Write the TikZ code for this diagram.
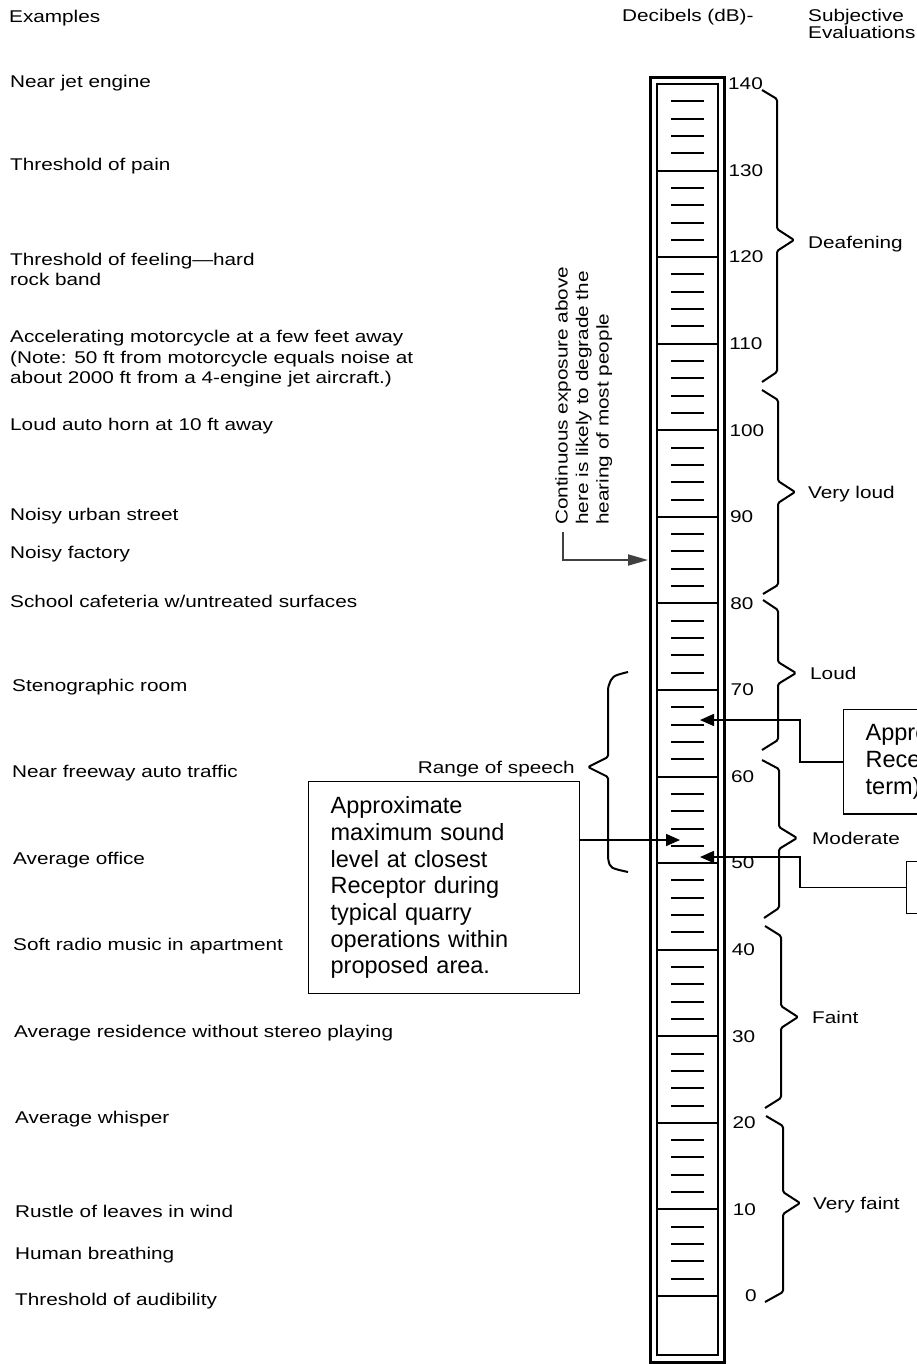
\documentclass[tikz,border=0pt]{standalone}
\usepackage{fontspec}
\setmainfont{Liberation Sans}
\newfontfamily\scanfont[FakeStretch=1.22]{Liberation Sans}
\usetikzlibrary{arrows.meta}
\begin{document}
\begin{tikzpicture}[x=1pt,y=-1pt,
  scan/.style={font=\scanfont\fontsize{17}{20.5}\selectfont, inner sep=0pt},
  lab/.style={scan, anchor=base west},
  mlab/.style={scan, anchor=north west, align=left},
  num/.style={scan, anchor=west},
  callout/.style={draw, line width=1.3pt, font=\fontsize{23.5}{26.7}\selectfont, align=left, text width=227pt, inner xsep=22pt, inner ysep=15pt, anchor=north west},
  conn/.style={line width=1.6pt, -{Triangle[length=14pt,width=12pt]}},
  brc/.style={line width=2pt, line join=round, rounded corners=1.5pt},
  wallout/.style={line width=3pt},
  wallin/.style={line width=2.2pt},
  divider/.style={line width=2pt},
  tick/.style={line width=2pt}
]
\useasboundingbox (0,0) rectangle (917,1364);
\fill[white] (0,0) rectangle (917,1364);
\clip (0,0) rectangle (917,1364);

% headers
\node[lab] (hex) at (9,23) {Examples};
\node[lab] (hdb) at (622,22) {Decibels (dB)-};
\node[scan, anchor=north west, align=left, font=\scanfont\fontsize{17}{17}\selectfont] (hsub) at (808,9) {Subjective\\Evaluations};

% examples
\node[lab] (e140) at (10,88) {Near jet engine};
\node[lab] (e130) at (10,171) {Threshold of pain};
\node[mlab] (e120) at (10,252.6) {Threshold of feeling—hard\\rock band};
\node[mlab] (e110) at (10,330) {Accelerating motorcycle at a few feet away\\(Note: 50 ft from motorcycle equals noise at\\about 2000 ft from a 4-engine jet aircraft.)};
\node[lab] (e100) at (10,430) {Loud auto horn at 10 ft away};
\node[lab] (e90) at (10,520) {Noisy urban street};
\node[lab] (e85) at (10,558) {Noisy factory};
\node[lab] (e80) at (10,607) {School cafeteria w/untreated surfaces};
\node[lab] (e70) at (12,691) {Stenographic room};
\node[lab] (e60) at (12,777) {Near freeway auto traffic};
\node[lab] (e50) at (13,864) {Average office};
\node[lab] (e40) at (13,950) {Soft radio music in apartment};
\node[lab] (e30) at (14,1037) {Average residence without stereo playing};
\node[lab] (e20) at (15,1123) {Average whisper};
\node[lab] (e10) at (15,1217) {Rustle of leaves in wind};
\node[lab] (e5) at (15,1259) {Human breathing};
\node[lab] (e0) at (15,1305) {Threshold of audibility};

% thermometer
\draw[wallout] (650,78) rectangle (724,1362);
\draw[wallin] (657,84) rectangle (718,1355);
\foreach \d in {0,10,...,130}{
  \draw[divider] (657,{84+(140-\d)*8.657}) -- (718,{84+(140-\d)*8.657});
}
\foreach \c in {0,...,13}{
  \foreach \k in {2,4,6,8}{
    \draw[tick] (671,{84+(10*\c+\k)*8.657}) -- (704,{84+(10*\c+\k)*8.657});
  }
}
\foreach \d in {10,20,...,140}{
  \node[num] (n\d) at ({728+(140-\d)*0.036},{84+(140-\d)*8.657}) {\d};
}
\node[num] (n0) at (745,1296) {0};

% subjective braces
\draw[brc] (762,90) -- (777,99) -- (777,229) -- (794,240) -- (777,251) -- (777,372) -- (762,382);
\draw[brc] (762,390) -- (778,400) -- (778,481) -- (795,492) -- (778,503) -- (778,585) -- (763,594);
\draw[brc] (763,600) -- (778,610) -- (778,662) -- (796,673) -- (778,684) -- (778,740) -- (762,750);
\draw[brc] (762,760) -- (779,769) -- (779,827) -- (797,838) -- (779,849) -- (779,908) -- (764,918);
\draw[brc] (765,926) -- (781,936) -- (781,1006) -- (798,1017) -- (781,1028) -- (781,1098) -- (765,1108);
\draw[brc] (766,1116) -- (783,1126) -- (783,1192) -- (800,1203) -- (783,1214) -- (783,1292) -- (765,1302);
\node[lab] (sdeaf) at (808,248) {Deafening};
\node[lab] (svl) at (808,498) {Very loud};
\node[lab] (sl) at (810,679) {Loud};
\node[lab] (sm) at (812,844) {Moderate};
\node[lab] (sf) at (812,1023) {Faint};
\node[lab] (svf) at (813,1209) {Very faint};

% range of speech
\draw[brc] (628,672) .. controls (612,676) .. (608,688) -- (608,757) -- (588,767) -- (608,777) -- (608,858) .. controls (610,868) .. (628,872);
\node[scan, anchor=base east] (speech) at (575,773) {Range of speech};

% continuous exposure note
\node[scan, rotate=90, anchor=north west, align=left] (cont) at (555,525) {Continuous exposure above\\here is likely to degrade the\\hearing of most people};
\coordinate (cfoot) at (563,532);
\coordinate (a85) at (648,560);
\draw[line width=1.8pt, black!75, -{Triangle[length=20pt,width=11pt]}] (cfoot) |- (a85);

% callout boxes
\node[callout] (box1) at (308,781) {Approximate\\maximum sound\\level at closest\\Receptor during\\typical quarry\\operations within\\proposed area.};
\node[callout] (box2) at (843,709) {Appro\\Rece\\term)};
\node[draw, line width=1.3pt, minimum width=60pt, minimum height=52pt, anchor=north west] (box3) at (906,861) {};

\coordinate (a66) at (700,720);
\coordinate (a51) at (700,857);
\coordinate (a52) at (680,840);
\draw[conn] (box1.east |- a52) -- (a52);
\draw[conn] (box2.west) -- ++(-43,0) |- (a66);
\draw[conn] (box3.west) -- ++(-106,0) |- (a51);
\end{tikzpicture}
\end{document}
